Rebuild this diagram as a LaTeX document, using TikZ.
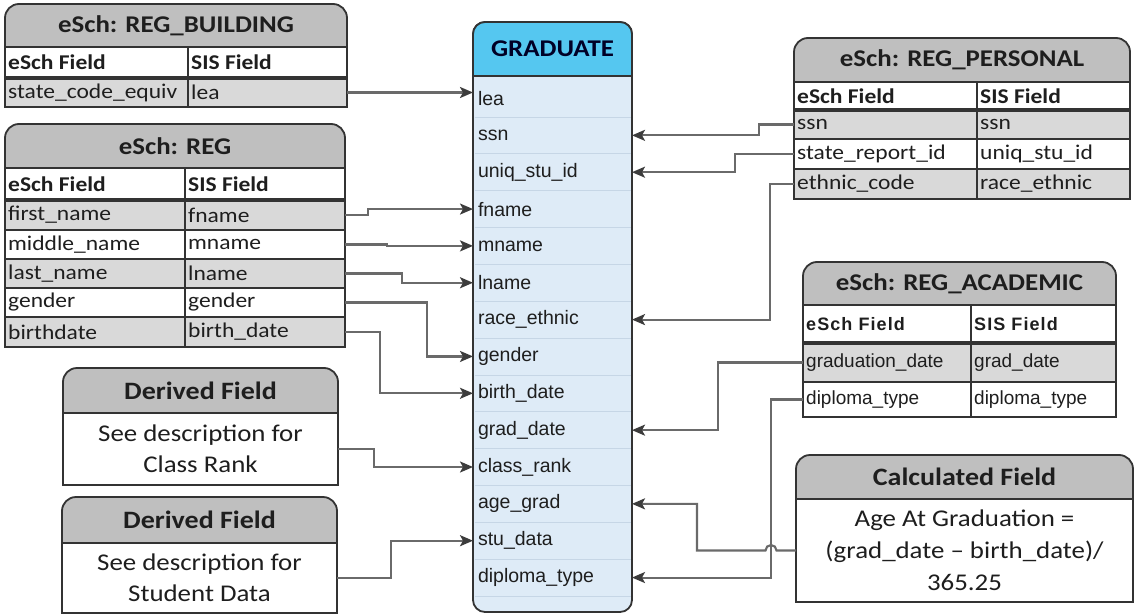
\documentclass[tikz,border=0pt]{standalone}
\usepackage{fontspec}
\setmainfont{Carlito}
\newfontfamily\calib[FakeStretch=1.12]{Carlito}
\newfontfamily\arialf{Liberation Sans}
\newfontfamily\arialsp[LetterSpace=6]{Liberation Sans}
\usetikzlibrary{arrows.meta,calc}
\definecolor{hdrgray}{HTML}{BFBFBF}
\definecolor{rowgray}{HTML}{D9D9D9}
\definecolor{bord}{HTML}{333333}
\definecolor{gblue}{HTML}{55C7F0}
\definecolor{gbody}{HTML}{DEEBF7}
\definecolor{gsep}{HTML}{C6D6E6}
\definecolor{connc}{HTML}{6A6A6A}
\definecolor{tipc}{HTML}{3C3C3C}
\definecolor{txt}{HTML}{1E1E1E}
\tikzset{
  hdrshape/.style={draw=bord, fill=hdrgray, line width=1.8pt},
  blueshape/.style={draw=bord, fill=gblue, line width=1.8pt},
  hdrtext/.style={font=\calib\bfseries\fontsize{24}{26}\selectfont, text=txt, inner sep=0pt},
  cellbox/.style={draw=bord, line width=1.8pt, anchor=north west, inner sep=0pt, outer sep=0pt},
  colh/.style={font=\calib\bfseries\fontsize{21}{23}\selectfont, text=txt, inner sep=0pt},
  dat/.style={font=\calib\fontsize{21}{23}\selectfont, text=txt, inner sep=0pt},
  acolh/.style={font=\arialsp\bfseries\fontsize{18}{20}\selectfont, text=txt, inner sep=0pt},
  adat/.style={font=\arialf\fontsize{19}{21}\selectfont, text=txt, inner sep=0pt},
  bodytext/.style={font=\calib\fontsize{24}{31}\selectfont, text=txt, align=center, inner sep=0pt},
  gradrow/.style={anchor=west, minimum width=159pt, minimum height=30pt, text width=149pt, align=left,
    inner xsep=5pt, inner ysep=0pt, outer sep=0pt, font=\arialf\fontsize{19.5}{21}\selectfont, text=txt},
  conn/.style={draw=connc, line width=2.1pt, -{Stealth[length=13pt,width=11pt,inset=3pt,color=tipc]}},
  thick sep/.style={draw=bord, line width=3.2pt}
}
% rounded-top header shape: [style]{x1}{y1}{x2}{y2}
\newcommand\tophdr[5][hdrshape]{\draw[#1] (#2,#5) -- (#2,#3+14) arc[start angle=180,end angle=270,radius=14] -- (#4-14,#3) arc[start angle=270,end angle=360,radius=14] -- (#4,#5) -- cycle;}
% table cell: name, x1, y1, width, height, fill, text style, text
\newcommand\tcell[8]{\node[cellbox, fill=#6, minimum width=#4, minimum height=#5] (#1) at (#2,#3) {};
  \node[#7, anchor=west] (#1t) at ([xshift=3pt]#1.west) {#8};}
\begin{document}
\begin{tikzpicture}[x=1pt,y=-1pt]
\useasboundingbox (0,0) rectangle (1137,615);
\fill[white] (0,0) rectangle (1137,615);

% ---------- eSch: REG_BUILDING ----------
\tophdr{5}{4}{347}{47}
\node[hdrtext] (bh) at (176,25.5) {eSch: REG\_BUILDING};
\tcell{bc1}{5}{47}{183}{31}{white}{colh}{eSch Field}
\tcell{bc2}{188}{47}{159}{31}{white}{colh}{SIS Field}
\tcell{b1l}{5}{78}{183}{29}{rowgray}{dat}{state\_code\_equiv}
\tcell{b1r}{188}{78}{159}{29}{rowgray}{dat}{lea}
\draw[thick sep] (5,78) -- (347,78);

% ---------- eSch: REG ----------
\tophdr{5}{124}{345}{168}
\node[hdrtext] (rh) at (175,146) {eSch: REG};
\tcell{rc1}{5}{168}{180}{32}{white}{colh}{eSch Field}
\tcell{rc2}{185}{168}{160}{32}{white}{colh}{SIS Field}
\tcell{r1l}{5}{200}{180}{30}{rowgray}{dat}{first\_name}
\tcell{r1r}{185}{200}{160}{30}{rowgray}{dat}{fname}
\tcell{r2l}{5}{230}{180}{29}{white}{dat}{middle\_name}
\tcell{r2r}{185}{230}{160}{29}{white}{dat}{mname}
\tcell{r3l}{5}{259}{180}{29}{rowgray}{dat}{last\_name}
\tcell{r3r}{185}{259}{160}{29}{rowgray}{dat}{lname}
\tcell{r4l}{5}{288}{180}{29}{white}{dat}{gender}
\tcell{r4r}{185}{288}{160}{29}{white}{dat}{gender}
\tcell{r5l}{5}{317}{180}{30}{rowgray}{dat}{birthdate}
\tcell{r5r}{185}{317}{160}{30}{rowgray}{dat}{birth\_date}
\draw[thick sep] (5,200) -- (345,200);

% ---------- Derived Field 1 ----------
\tophdr{63}{368}{338}{413}
\node[hdrtext, font=\calib\bfseries\fontsize{25}{27}\selectfont] (d1h) at (200.5,390.5) {Derived Field};
\node[cellbox, fill=white, minimum width=275, minimum height=72] (d1b) at (63,413) {};
\node[bodytext] (d1t) at (d1b.center) {See description for\\Class Rank};

% ---------- Derived Field 2 ----------
\tophdr{62}{497}{337}{543}
\node[hdrtext, font=\calib\bfseries\fontsize{25}{27}\selectfont] (d2h) at (199.5,520) {Derived Field};
\node[cellbox, fill=white, minimum width=275, minimum height=70] (d2b) at (62,543) {};
\node[bodytext] (d2t) at (d2b.center) {See description for\\Student Data};

% ---------- GRADUATE ----------
\draw[draw=bord, fill=gbody, line width=1.8pt, rounded corners=12pt] (473,22) rectangle (632,612);
\draw[blueshape] (473,76) -- (473,22+12) arc[start angle=180,end angle=270,radius=12] -- (632-12,22) arc[start angle=270,end angle=360,radius=12] -- (632,76) -- cycle;
\node[hdrtext, text=black!85!blue] (gh) at (552.5,49) {GRADUATE};
\foreach \i in {0,...,13} \draw[gsep, line width=0.8pt] (474.5,117+36.85*\i) -- (630.5,117+36.85*\i);
\foreach \n/\t [count=\i from 0] in {lea/lea, ssn/ssn, uniq/uniq\_stu\_id, fname/fname, mname/mname, lname/lname,
  race/race\_ethnic, gender/gender, birth/birth\_date, grad/grad\_date, class/class\_rank, age/age\_grad,
  stu/stu\_data, dipl/diploma\_type}
  \node[gradrow] (g-\n) at (473,98.5+36.85*\i) {\t};

% ---------- eSch: REG_PERSONAL ----------
\tophdr{794}{38}{1130}{82}
\node[hdrtext] (ph) at (962,60) {eSch: REG\_PERSONAL};
\tcell{pc1}{794}{82}{183}{28}{white}{colh}{eSch Field}
\tcell{pc2}{977}{82}{153}{28}{white}{colh}{SIS Field}
\tcell{p1l}{794}{110}{183}{29}{rowgray}{dat}{ssn}
\tcell{p1r}{977}{110}{153}{29}{rowgray}{dat}{ssn}
\tcell{p2l}{794}{139}{183}{30}{white}{dat}{state\_report\_id}
\tcell{p2r}{977}{139}{153}{30}{white}{dat}{uniq\_stu\_id}
\tcell{p3l}{794}{169}{183}{30}{rowgray}{dat}{ethnic\_code}
\tcell{p3r}{977}{169}{153}{30}{rowgray}{dat}{race\_ethnic}
\draw[thick sep] (794,110) -- (1130,110);

% ---------- eSch: REG_ACADEMIC ----------
\tophdr{803}{262}{1116}{305}
\node[hdrtext] (ah) at (959.5,283.5) {eSch: REG\_ACADEMIC};
\tcell{ac1}{803}{305}{168}{38}{white}{acolh}{eSch Field}
\tcell{ac2}{971}{305}{145}{38}{white}{acolh}{SIS Field}
\tcell{a1l}{803}{343}{168}{39}{rowgray}{adat}{graduation\_date}
\tcell{a1r}{971}{343}{145}{39}{rowgray}{adat}{grad\_date}
\tcell{a2l}{803}{382}{168}{35}{white}{adat}{diploma\_type}
\tcell{a2r}{971}{382}{145}{35}{white}{adat}{diploma\_type}
\draw[thick sep] (803,343) -- (1116,343);

% ---------- Calculated Field ----------
\tophdr{796}{455}{1133}{499}
\node[hdrtext, font=\calib\bfseries\fontsize{25}{27}\selectfont] (ch) at (964.5,477) {Calculated Field};
\node[cellbox, fill=white, minimum width=337, minimum height=103] (cb) at (796,499) {};
\node[bodytext, font=\calib\fontsize{24}{32}\selectfont] (ct) at (cb.center) {Age At Graduation =\\(grad\_date – birth\_date)/\\365.25};

% ---------- connectors ----------
\draw[conn] (b1r.east) -- (b1r.east -| g-lea.west);
\draw[conn] (r1r.east) -- ([xshift=23pt]r1r.east) |- (g-fname.west);
\draw[conn] (r2r.east) -- ([xshift=42pt]r2r.east) |- (g-mname.west);
\draw[conn] (r3r.east) -- ([xshift=57pt]r3r.east) |- (g-lname.west);
\draw[conn] (r4r.east) -- ([xshift=82pt]r4r.east) |- (g-gender.west);
\draw[conn] (r5r.east) -- ([xshift=35pt]r5r.east) |- (g-birth.west);
\draw[conn] (d1b.east) -- ([xshift=36pt]d1b.east) |- (g-class.west);
\draw[conn] (d2b.east) -- ([xshift=54pt]d2b.east) |- (g-stu.west);
\draw[conn] (p1l.west) -- ([xshift=-35pt]p1l.west) |- (g-ssn.east);
\draw[conn] (p2l.west) -- ([xshift=-59pt]p2l.west) |- (g-uniq.east);
\draw[conn] (p3l.west) -- ([xshift=-24pt]p3l.west) |- (g-race.east);
\draw[conn] (a1l.west) -- ([xshift=-85pt]a1l.west) |- (g-grad.east);
\draw[conn] (a2l.west) -- ([xshift=-32pt]a2l.west) |- (g-dipl.east);
\draw[conn] (cb.west) -- ++(-19.5,0) arc[start angle=0,end angle=-180,radius=5.5] -- ++(-68.5,0) |- (g-age.east);
\end{tikzpicture}
\end{document}
